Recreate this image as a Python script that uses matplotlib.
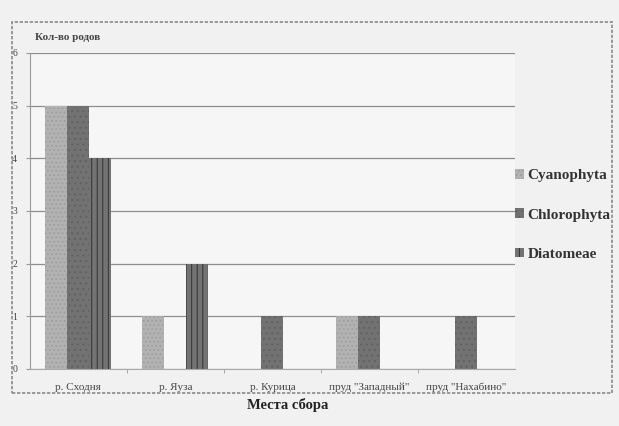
import numpy as np
import matplotlib
matplotlib.use("Agg")
import matplotlib.pyplot as plt
from matplotlib.patches import Rectangle

# Data
sites = ['р. Сходня', 'р. Яуза', 'р. Курица', 'пруд "Западный"', 'пруд "Нахабино"']
cyanophyta = [5, 1, 0, 1, 0]
chlorophyta = [5, 0, 1, 1, 1]
diatomeae = [4, 2, 0, 0, 0]
y_ticks = [0, 1, 2, 3, 4, 5, 6]

plt.rcParams['font.family'] = ['Liberation Serif', 'DejaVu Serif']
plt.rcParams['hatch.linewidth'] = 0.7

fig = plt.figure(figsize=(6.19, 4.26), dpi=100, facecolor='#f1f1f1')
ax = fig.add_axes([0.048, 0.134, 0.784, 0.742])
ax.set_facecolor('#f6f6f6')

x = np.arange(len(sites))
w = 0.227
ax.bar(x - w, cyanophyta, w, color='#b2b2b2', edgecolor='#9c9c9c', hatch='....',
       linewidth=0, label='Cyanophyta')
ax.bar(x, chlorophyta, w, color='#727272', edgecolor='#606060', hatch='...',
       linewidth=0, label='Chlorophyta')
ax.bar(x + w, diatomeae, w, color='#737373', edgecolor='#333333', hatch='|||',
       linewidth=0, label='Diatomeae')

ax.set_xlim(-0.5, len(sites) - 0.5)
ax.set_ylim(0, 6)
ax.set_yticks(y_ticks)
ax.set_yticklabels([str(v) for v in y_ticks], fontsize=7, color='#444444')
ax.yaxis.grid(True, color='#8e8e8e', linewidth=0.9)
ax.set_axisbelow(True)

ax.set_xticks(x)
ax.set_xticklabels(sites, fontsize=8, color='#444444')
ax.tick_params(axis='x', length=0, pad=10)
ax.set_xticks(np.arange(0.5, len(sites) - 0.5, 1), minor=True)
ax.tick_params(axis='x', which='minor', length=3, color='#999999')
ax.tick_params(axis='y', length=3, color='#999999', pad=6)

for side in ['top', 'right']:
    ax.spines[side].set_visible(False)
ax.spines['left'].set_color('#999999')
ax.spines['bottom'].set_color('#aaaaaa')

fig.text(0.056, 0.912, 'Кол-во родов', fontsize=8, fontweight='bold', color='#444444',
         ha='left', va='center')
fig.text(0.464, 0.049, 'Места сбора', fontsize=10.5, fontweight='bold', color='#222222',
         ha='center', va='center')

leg = fig.legend(loc='upper left', bbox_to_anchor=(0.81, 0.635), frameon=False,
                 prop={'size': 11, 'weight': 'bold'}, handlelength=0.6, handleheight=0.6,
                 handletextpad=0.2, labelspacing=1.7)
for t in leg.get_texts():
    t.set_color('#333333')

# outer chart frame of the scanned figure
fig.patches.append(Rectangle((0.019, 0.077), 0.969, 0.871, transform=fig.transFigure,
                             fill=False, edgecolor='#8a8a8a', linewidth=1.2, linestyle=(0, (2, 1))))

fig.savefig('out.png', dpi=100, facecolor=fig.get_facecolor())
